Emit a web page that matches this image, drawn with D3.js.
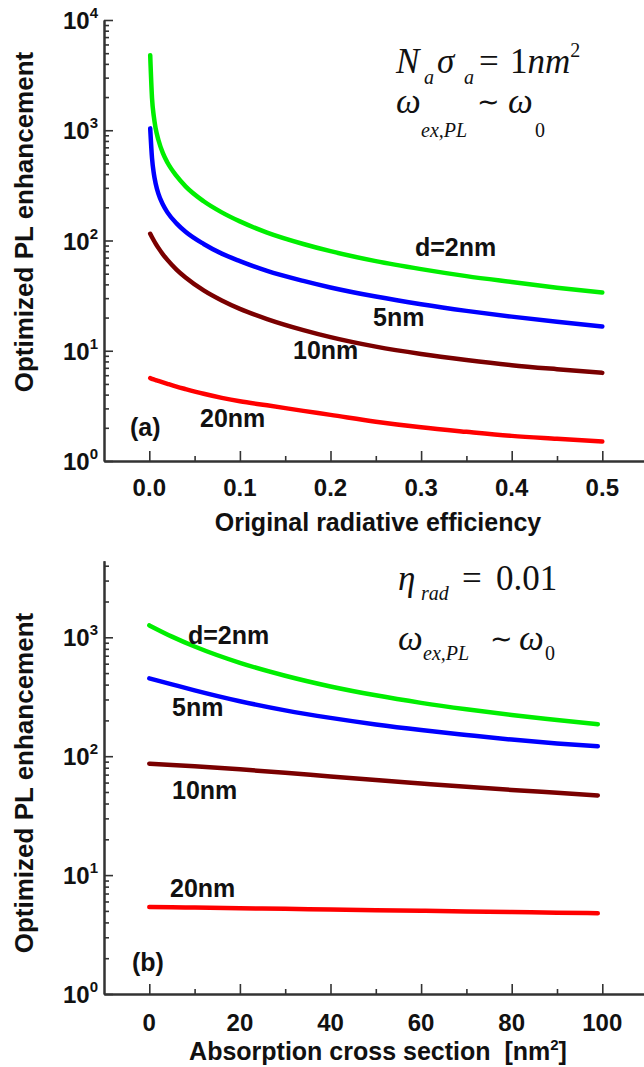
<!DOCTYPE html>
<html>
<head>
<meta charset="utf-8">
<script src="https://cdn.jsdelivr.net/npm/d3@7"></script>
<style>
  body { margin: 0; background: #fff; }
  .lbl { font-family: "Liberation Sans", Arial, sans-serif; font-weight: bold; fill: #111; }
  .math { font-family: "Liberation Serif", "Times New Roman", serif; fill: #111; }
</style>
</head>
<body>
<div id="chart"></div>
<script>
// ---- panel (a): enhancement vs original radiative efficiency
var effX   = [0.001, 0.003, 0.005, 0.007, 0.01, 0.015, 0.02, 0.03, 0.04, 0.06, 0.08, 0.1, 0.13, 0.17, 0.2, 0.25, 0.3, 0.35, 0.4, 0.45, 0.5];
var effD2  = [4800, 1960, 1330, 1040, 820, 620, 510, 385, 310, 227, 180, 149, 118, 93, 80, 65, 55, 47.5, 42, 37.3, 33.7];
var effD5  = [1040, 558, 404, 329, 266, 212, 180, 143, 120, 93, 76, 65, 53, 43, 37.5, 31, 26.4, 23, 20.4, 18.3, 16.6];
var effD10 = [115, 107, 100, 93.8, 85.7, 75, 66.7, 54.5, 46.2, 35.3, 28.6, 24, 19.4, 15.4, 13.3, 10.9, 9.35, 8.25, 7.4, 6.8, 6.3];
var effD20 = [5.65, 5.57, 5.5, 5.42, 5.32, 5.16, 5.01, 4.73, 4.49, 4.07, 3.74, 3.48, 3.2, 2.85, 2.62, 2.27, 2.02, 1.84, 1.69, 1.59, 1.5];
var effTicks = [0, 0.1, 0.2, 0.3, 0.4, 0.5];
var effMinor = [0.05, 0.15, 0.25, 0.35, 0.45];

// ---- panel (b): enhancement vs absorption cross section
var csX   = [0, 5, 10, 20, 30, 40, 50, 60, 70, 80, 90, 99];
var csD2  = [1260, 1013, 837, 610, 475, 386, 325, 281, 248, 222, 202, 186];
var csD5  = [452, 402, 358, 290, 243, 210, 185, 166, 151, 138, 128, 121];
var csD10 = [86.5, 84.5, 82.3, 77.5, 72.5, 67.5, 63, 59, 55.3, 52, 49.2, 46.8];
var csD20 = [5.4, 5.37, 5.33, 5.26, 5.2, 5.13, 5.07, 5.01, 4.95, 4.89, 4.83, 4.78];
var csTicks = [0, 20, 40, 60, 80, 100];
var csMinor = [10, 30, 50, 70, 90];

var seriesNames = ["d=2nm", "5nm", "10nm", "20nm"];
var seriesColors = ["#00ee00", "#0000ff", "#7a0000", "#ff0000"];
var decades = [1, 10, 100, 1000, 10000];

var W = 644, H = 1067;
var svg = d3.select("#chart").append("svg")
    .attr("width", W).attr("height", H)
    .style("background", "#fff");

function minorLog(lo, hi) {
    var out = [];
    for (var k = 0; k < 5; k++) {
        for (var m = 2; m <= 9; m++) {
            var v = m * Math.pow(10, k);
            if (v > lo && v < hi) out.push(v);
        }
    }
    return out;
}

function styleAxis(sel) {
    sel.select(".domain").attr("stroke", "#333").attr("stroke-width", 2);
    sel.selectAll(".tick line").attr("stroke", "#333").attr("stroke-width", 1.6);
}

function panel(cfg) {
    var g = svg.append("g");
    var x = d3.scaleLinear().domain(cfg.xDomain).range([104, 647.6]);
    var y = d3.scaleLog().domain(cfg.yDomain).range(cfg.yRange);
    var x0 = 104, yb = cfg.yRange[0];
    var majors = decades.filter(function(d){ return d <= cfg.yDomain[1]; });

    // y axis
    g.append("g").attr("transform", "translate(" + x0 + ",0)")
        .call(d3.axisLeft(y).tickValues(minorLog(cfg.yDomain[0], cfg.yDomain[1])).tickSize(-5).tickSizeOuter(0).tickFormat(""))
        .call(styleAxis);
    g.append("g").attr("transform", "translate(" + x0 + ",0)")
        .call(d3.axisLeft(y).tickValues(majors).tickSize(-9).tickSizeOuter(0).tickFormat(""))
        .call(styleAxis);

    // x axis
    g.append("g").attr("transform", "translate(0," + yb + ")")
        .call(d3.axisBottom(x).tickValues(cfg.xMinor).tickSize(-5).tickSizeOuter(0).tickFormat(""))
        .call(styleAxis);
    g.append("g").attr("transform", "translate(0," + yb + ")")
        .call(d3.axisBottom(x).tickValues(cfg.xTicks).tickSize(-10).tickSizeOuter(0).tickFormat(""))
        .call(styleAxis);

    // y tick labels 10^n
    var yl = g.selectAll(".ylab")
        .data(majors)
        .enter().append("text")
        .attr("class", "lbl")
        .attr("text-anchor", "end")
        .attr("x", 98)
        .attr("y", function(d){ return y(d) + 9; })
        .style("font-size", "24px");
    yl.append("tspan").text("10");
    yl.append("tspan")
        .attr("dy", -11)
        .style("font-size", "15px")
        .text(function(d){ return Math.round(Math.log10(d)); });

    // x tick labels
    g.selectAll(".xlab")
        .data(cfg.xTicks)
        .enter().append("text")
        .attr("class", "lbl")
        .attr("text-anchor", "middle")
        .attr("x", function(d){ return x(d); })
        .attr("y", yb + cfg.tickDy)
        .style("font-size", "24px")
        .text(cfg.xFormat);

    // curves
    var line = d3.line()
        .x(function(d){ return x(d[0]); })
        .y(function(d){ return y(d[1]); })
        .curve(d3.curveMonotoneX);
    cfg.series.forEach(function(vals, i) {
        g.append("path")
            .datum(cfg.xs.map(function(v, j){ return [v, vals[j]]; }))
            .attr("fill", "none")
            .attr("stroke", seriesColors[i])
            .attr("stroke-width", 4.5)
            .attr("stroke-linecap", "round")
            .attr("d", line);
    });

    // curve labels
    cfg.labels.forEach(function(p, i) {
        g.append("text").attr("class", "lbl")
            .attr("x", p[0]).attr("y", p[1])
            .style("font-size", "25px")
            .text(seriesNames[i]);
    });
    g.append("text").attr("class", "lbl")
        .attr("x", cfg.tag[0]).attr("y", cfg.tag[1])
        .style("font-size", "25px")
        .text(cfg.tagText);

    // y title
    g.append("text").attr("class", "lbl")
        .attr("transform", "translate(33," + cfg.yTitleY + ") rotate(-90)")
        .attr("text-anchor", "middle")
        .style("font-size", "26px")
        .text("Optimized PL enhancement");

    return { g: g, x: x, y: y };
}

// ---- panel (a)
var pa = panel({
    xDomain: [-0.05, 0.55], yDomain: [1, 10000], yRange: [461, 20],
    xTicks: effTicks, xMinor: effMinor, xFormat: d3.format(".1f"), tickDy: 35,
    xs: effX, series: [effD2, effD5, effD10, effD20],
    labels: [[415, 256], [373, 326], [293, 359], [200, 427]],
    tag: [130, 436], tagText: "(a)", yTitleY: 222
});
pa.g.append("text").attr("class", "lbl")
    .attr("x", 378).attr("y", 531).attr("text-anchor", "middle")
    .style("font-size", "25px")
    .text("Original radiative efficiency");

// ---- panel (b)
var pb = panel({
    xDomain: [-10, 110], yDomain: [1, 4400], yRange: [994, 637.3 - 118.9 * Math.log10(4.4)],
    xTicks: csTicks, xMinor: csMinor, xFormat: d3.format("d"), tickDy: 37,
    xs: csX, series: [csD2, csD5, csD10, csD20],
    labels: [[188, 644], [172, 716], [172, 799], [170, 897]],
    tag: [132, 971], tagText: "(b)", yTitleY: 783
});
var bt = pb.g.append("text").attr("class", "lbl")
    .attr("x", 378).attr("y", 1060).attr("text-anchor", "middle")
    .style("font-size", "25px")
    .attr("xml:space", "preserve");
bt.append("tspan").text("Absorption cross section  [nm");
bt.append("tspan").attr("dy", -10).style("font-size", "15px").text("2");
bt.append("tspan").attr("dy", 10).text("]");

// ---- formula annotations (Times italic)
function mathText(parts) {
    var t = svg.append("text").attr("class", "math");
    parts.forEach(function(p) {
        var s = t.append("tspan")
            .style("font-size", p.s + "px")
            .style("font-style", p.i ? "italic" : "normal")
            .text(p.t);
        if (p.x != null) s.attr("x", p.x);
        if (p.y != null) s.attr("y", p.y);
    });
}
mathText([
    { t: "N", x: 396, y: 73, s: 35, i: true },
    { t: "a", x: 424, y: 84, s: 20, i: true },
    { t: "\u03c3", x: 437, y: 73, s: 35, i: true },
    { t: "a", x: 464, y: 84, s: 20, i: true },
    { t: "=", x: 479, y: 73, s: 35 },
    { t: "1", x: 510, y: 73, s: 35 },
    { t: "nm", s: 35, i: true },
    { t: "2", y: 57, s: 20 },
    { t: "\u03c9", x: 396, y: 113, s: 35, i: true },
    { t: "ex,PL", x: 421, y: 137, s: 20, i: true },
    { t: "\u223c", x: 477, y: 111, s: 27 },
    { t: "\u03c9", x: 508, y: 113, s: 35, i: true },
    { t: "0", x: 535, y: 137, s: 20 }
]);
mathText([
    { t: "\u03b7", x: 398, y: 590, s: 35, i: true },
    { t: "rad", x: 421, y: 600, s: 20, i: true },
    { t: "=", x: 462, y: 590, s: 35 },
    { t: "0.01", x: 496, y: 590, s: 35 },
    { t: "\u03c9", x: 398, y: 650, s: 35, i: true },
    { t: "ex,PL", x: 423, y: 660, s: 20, i: true },
    { t: "\u223c", x: 490, y: 648, s: 27 },
    { t: "\u03c9", x: 519, y: 650, s: 35, i: true },
    { t: "0", x: 545, y: 660, s: 20 }
]);
</script>
</body>
</html>
